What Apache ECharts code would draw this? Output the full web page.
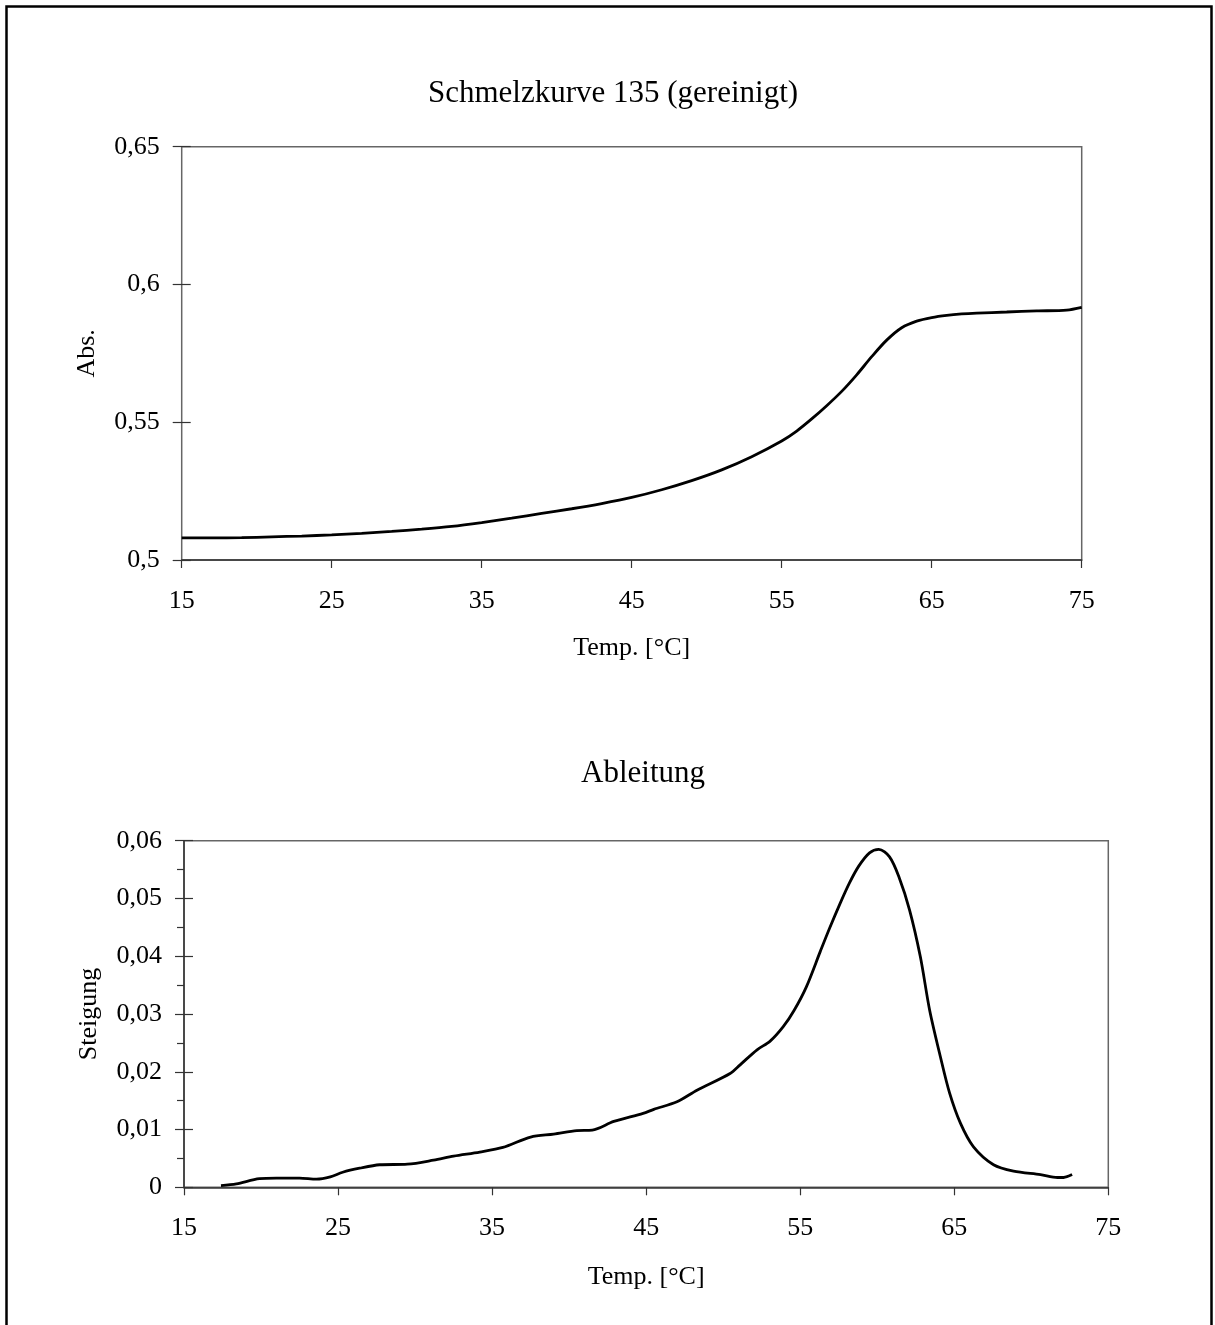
<!DOCTYPE html>
<html>
<head>
<meta charset="utf-8">
<script src="https://cdn.jsdelivr.net/npm/echarts@6/dist/echarts.min.js"></script>
<style>
  html, body { margin: 0; padding: 0; background: #fff; }
  #main { width: 1215px; height: 1325px; }
</style>
</head>
<body>
<div id="main"></div>
<script>
// ---------------- data ----------------
var xTicks = [15, 25, 35, 45, 55, 65, 75];

// Schmelzkurve: Temp [°C] / Abs.
var meltTemp = [15, 17, 19, 21, 23, 25, 27, 29, 31, 33, 35, 37, 39, 41, 43, 45, 47, 49, 51, 53,
  55, 56, 57, 58, 59, 60, 61, 62, 63, 64, 65, 66, 67, 68, 70, 72, 74, 75];
var meltAbs = [0.5080, 0.5080, 0.5081, 0.5084, 0.5087, 0.5091, 0.5097, 0.5104, 0.5112, 0.5122,
  0.5136, 0.5152, 0.5169, 0.5186, 0.5205, 0.5227, 0.5255, 0.5288, 0.5327, 0.5375,
  0.5432, 0.5468, 0.5512, 0.5560, 0.5612, 0.5672, 0.5738, 0.5798, 0.5843, 0.5867,
  0.5880, 0.5888, 0.5893, 0.5896, 0.5900, 0.5904, 0.5907, 0.5917];

// Ableitung: Temp [°C] / Steigung
var derivTemp = [17.4, 18.4, 19.9, 21, 22.5, 23.6, 24.5, 25.3, 26.4, 27.7, 29.5, 31.2, 32.5, 34.2,
  35.7, 37.5, 39.0, 40.5, 41.5, 42.9, 44.8, 45.5, 47.0, 48.3, 50.45, 51.1, 52.2, 53.05, 53.9,
  54.6, 55.4, 56.3, 56.9, 57.6, 58.2, 58.8, 59.5, 60.1, 60.8, 61.4, 62.1, 62.8, 63.4, 64.1,
  64.7, 65.4, 66.25, 67.55, 68.85, 70.6, 71.7, 72.1, 72.65];
var derivSlope = [0.0003, 0.0006, 0.0015, 0.0016, 0.0016, 0.0014, 0.0018, 0.0026, 0.0033, 0.0039,
  0.0040, 0.0047, 0.0054, 0.0061, 0.0069, 0.0087, 0.0092, 0.0098, 0.0099, 0.0114, 0.0128,
  0.0135, 0.0148, 0.0168, 0.0197, 0.0212, 0.0238, 0.0253, 0.0278, 0.0306, 0.0347, 0.0408,
  0.0448, 0.0492, 0.0527, 0.0556, 0.0579, 0.0585, 0.0572, 0.0538, 0.0480, 0.0399, 0.0307,
  0.0226, 0.0163, 0.0111, 0.0070, 0.0039, 0.0028, 0.0022, 0.0017, 0.0017, 0.0022];

// ---------------- chart ----------------
var FONT = "Liberation Serif";
var AXIS_COLOR = "#333";
var HALF_TICK = 9; // y ticks cross the axis line: half outside, half inside

function commaFmt(v) {
  return String(Math.round(v * 1000) / 1000).replace(".", ",");
}

function xAxisFor(grid, gap) {
  return {
    gridIndex: grid,
    type: "value",
    min: 15,
    max: 75,
    name: "Temp. [°C]",
    nameLocation: "middle",
    nameGap: gap,
    nameTextStyle: { fontFamily: FONT, fontSize: 26, color: "#000" },
    axisLine: { lineStyle: { color: AXIS_COLOR, width: 1.5 } },
    axisTick: { customValues: xTicks, length: 8, lineStyle: { color: AXIS_COLOR, width: 1.2 } },
    axisLabel: { customValues: xTicks, margin: 28, fontFamily: FONT, fontSize: 26, color: "#000" },
    splitLine: { show: false },
  };
}

// the y axis is shifted half a tick into the plot and its ticks are doubled,
// so they cross the left edge of the grid (drawn by the grid border)
function yAxisFor(grid, name, min, max, step) {
  return {
    gridIndex: grid,
    type: "value",
    min: min,
    max: max,
    interval: step,
    offset: -HALF_TICK,
    name: name,
    nameLocation: "middle",
    nameGap: 82 + HALF_TICK,
    nameTextStyle: { fontFamily: FONT, fontSize: 26, color: "#000" },
    axisLine: { show: false },
    axisTick: { show: true, length: 2 * HALF_TICK, lineStyle: { color: AXIS_COLOR, width: 1.2 } },
    axisLabel: { margin: 22 + HALF_TICK, fontFamily: FONT, fontSize: 26, color: "#000", formatter: commaFmt },
    splitLine: { show: false },
  };
}

var myChart = echarts.init(document.getElementById("main"), null, { renderer: "canvas" });

var option = {
  animation: false,
  backgroundColor: "#fff",
  graphic: [
    {
      type: "rect",
      shape: { x: 6.5, y: 6.5, width: 1205, height: 1400 },
      style: { fill: "none", stroke: "#000", lineWidth: 2.5 },
    },
    {
      type: "text",
      x: 613,
      y: 94,
      style: {
        text: "Schmelzkurve 135 (gereinigt)",
        font: "31px " + FONT,
        fill: "#000",
        textAlign: "center",
        textVerticalAlign: "middle",
      },
    },
    {
      type: "text",
      x: 643,
      y: 774,
      style: {
        text: "Ableitung",
        font: "31px " + FONT,
        fill: "#000",
        textAlign: "center",
        textVerticalAlign: "middle",
      },
    },
  ],
  grid: [
    { left: 181.7, top: 146.7, width: 900, height: 413.3, show: true, borderColor: "#666", borderWidth: 1.5 },
    { left: 184, top: 840.7, width: 924.3, height: 346.6, show: true, borderColor: "#666", borderWidth: 1.5 },
    // overlay on the lower plot, only for the short outside minor ticks
    { left: 184, top: 840.7, width: 924.3, height: 346.6 },
  ],
  xAxis: [
    xAxisFor(0, 75),
    xAxisFor(1, 77),
    { gridIndex: 2, type: "value", min: 15, max: 75, show: false },
  ],
  yAxis: [
    yAxisFor(0, "Abs.", 0.5, 0.65, 0.05),
    yAxisFor(1, "Steigung", 0, 0.06, 0.01),
    {
      gridIndex: 2,
      type: "value",
      min: 0,
      max: 0.06,
      interval: 0.01,
      axisLine: { show: true, lineStyle: { color: AXIS_COLOR, width: 1.5 } },
      axisTick: { show: false },
      minorTick: { show: true, splitNumber: 2, length: 7, lineStyle: { color: AXIS_COLOR, width: 1.2 } },
      axisLabel: { show: false },
      splitLine: { show: false },
    },
  ],
  series: [
    {
      type: "line",
      xAxisIndex: 0,
      yAxisIndex: 0,
      data: meltTemp.map(function (t, i) { return [t, meltAbs[i]]; }),
      showSymbol: false,
      smooth: 0.3,
      lineStyle: { color: "#000", width: 2.8 },
    },
    {
      type: "line",
      xAxisIndex: 1,
      yAxisIndex: 1,
      data: derivTemp.map(function (t, i) { return [t, derivSlope[i]]; }),
      showSymbol: false,
      smooth: 0.3,
      lineStyle: { color: "#000", width: 2.8 },
    },
    { type: "line", xAxisIndex: 2, yAxisIndex: 2, data: [], silent: true },
  ],
};

myChart.setOption(option);
window.addEventListener("resize", myChart.resize);
</script>
</body>
</html>
